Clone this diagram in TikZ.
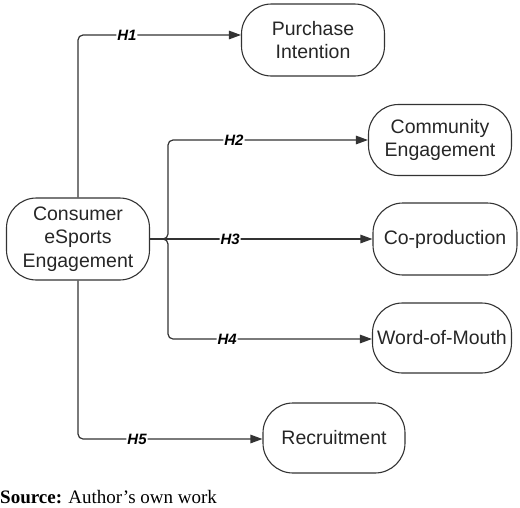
\documentclass[tikz,border=0pt]{standalone}
\usepackage{fontspec}
\setmainfont{Liberation Serif}
\newfontfamily\arialfont{Liberation Sans}
\usetikzlibrary{arrows.meta}
\definecolor{linec}{HTML}{333333}
\tikzset{
  box/.style={draw=linec, line width=1.1pt, rounded corners=30pt, align=center,
    font=\arialfont\fontsize{19.5}{23.5}\selectfont, text=black!85, inner sep=0pt},
  conn/.style={draw=linec, line width=1.2pt, rounded corners=5pt},
  arr/.style={conn, -{Triangle[length=12pt,width=8.5pt]}},
  hlab/.style={fill=white, inner sep=1pt, font=\arialfont\bfseries\itshape\fontsize{15}{17}\selectfont, text=black}
}
\begin{document}
\begin{tikzpicture}[x=1pt,y=-1pt]
\useasboundingbox (0,0) rectangle (520,507);
\node[box, minimum width=143pt, minimum height=82pt] (cons) at (78,239) {Consumer\\eSports\\Engagement};
\node[box, minimum width=143pt, minimum height=72pt] (pi) at (313,40) {Purchase\\Intention};
\node[box, minimum width=143pt, minimum height=71pt] (ce) at (440,140) {Community\\Engagement};
\node[box, minimum width=144pt, minimum height=72pt] (cp) at (445,239) {Co-production};
\node[box, minimum width=139pt, minimum height=70pt] (wom) at (442,338) {Word-of-Mouth};
\node[box, minimum width=142pt, minimum height=70pt] (rec) at (334,438) {Recruitment};
\coordinate (j) at (168,239);
\coordinate (pit) at ([yshift=5pt]pi.west);
\coordinate (rect) at ([yshift=-1pt]rec.west);
\coordinate (womt) at ([yshift=-1pt]wom.west);
% H1
\draw[arr] (cons.north) |- (pit) node[hlab, pos=0.65] (h1) {H1};
% H2
\draw[arr] (cons.east) -- (j) |- (ce.west) node[hlab, pos=0.665] (h2) {H2};
% H3
\draw[arr] (cons.east) -- (cp.west) node[hlab, pos=0.36] (h3) {H3};
% H4
\draw[arr] (cons.east) -- (j) |- (womt) node[hlab, pos=0.645] (h4) {H4};
% H5
\draw[arr] (cons.south) |- (rect) node[hlab, pos=0.66] (h5) {H5};
\node[anchor=base west, inner sep=0pt, font=\fontsize{19}{22}\selectfont] (src) at (0,503) {\textbf{Source:} Author’s own work};
\end{tikzpicture}
\end{document}
